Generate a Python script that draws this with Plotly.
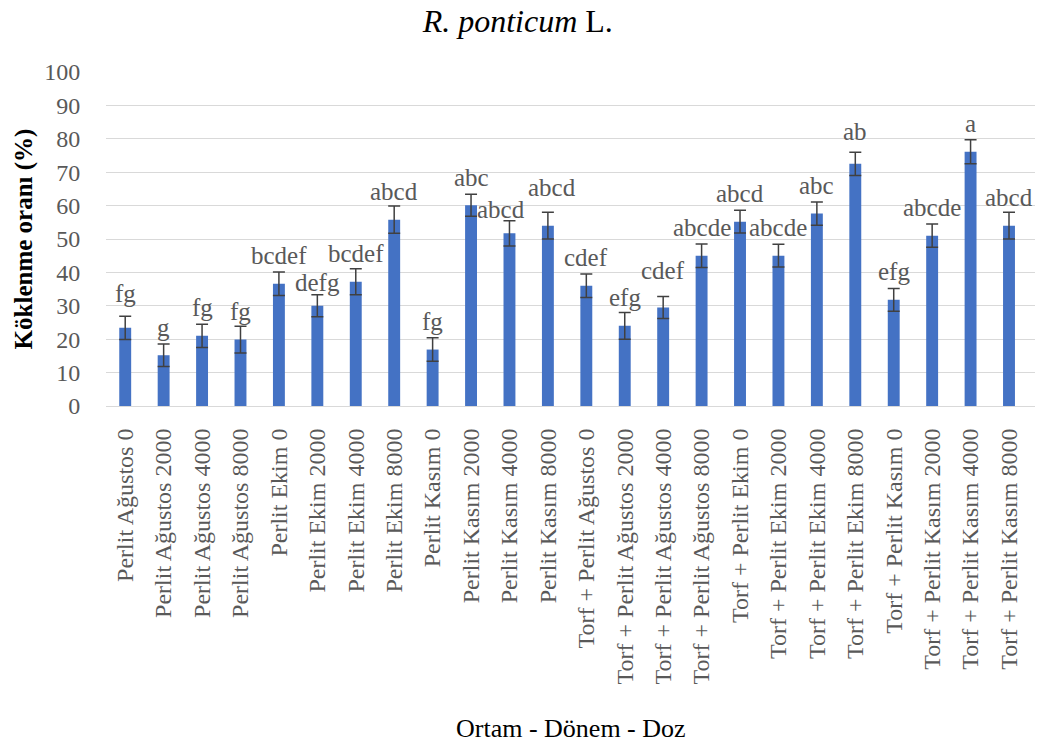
import plotly.graph_objects as go

# Treatment groups: medium - period - dose (ppm IBA)
categories = [
    "Perlit Ağustos 0", "Perlit Ağustos 2000", "Perlit Ağustos 4000", "Perlit Ağustos 8000",
    "Perlit Ekim 0", "Perlit Ekim 2000", "Perlit Ekim 4000", "Perlit Ekim 8000",
    "Perlit Kasım 0", "Perlit Kasım 2000", "Perlit Kasım 4000", "Perlit Kasım 8000",
    "Torf + Perlit Ağustos 0", "Torf + Perlit Ağustos 2000", "Torf + Perlit Ağustos 4000",
    "Torf + Perlit Ağustos 8000", "Torf + Perlit Ekim 0", "Torf + Perlit Ekim 2000",
    "Torf + Perlit Ekim 4000", "Torf + Perlit Ekim 8000", "Torf + Perlit Kasım 0",
    "Torf + Perlit Kasım 2000", "Torf + Perlit Kasım 4000", "Torf + Perlit Kasım 8000",
]

# Rooting rate (%) and standard error
rooting = [23.4, 15.2, 21.0, 19.9, 36.6, 30.0, 37.2, 55.8, 16.9, 60.1, 51.7, 54.0,
           36.0, 24.0, 29.5, 45.0, 55.2, 45.0, 57.6, 72.5, 31.8, 51.0, 76.1, 54.0]
std_err = [3.5, 3.4, 3.5, 4.0, 3.5, 3.3, 3.9, 4.1, 3.5, 3.3, 3.8, 4.0,
           3.5, 4.0, 3.3, 3.5, 3.4, 3.4, 3.5, 3.5, 3.4, 3.5, 3.6, 4.0]

# Duncan grouping letters
letters = ["fg", "g", "fg", "fg", "bcdef", "defg", "bcdef", "abcd", "fg", "abc", "abcd", "abcd",
           "cdef", "efg", "cdef", "abcde", "abcd", "abcde", "abc", "ab", "efg", "abcde", "a", "abcd"]

SERIF = "Liberation Serif"
BAR_BLUE = "#4472C4"
GREY_TXT = "#595959"

fig = go.Figure()
fig.add_trace(go.Bar(
    x=categories,
    y=rooting,
    marker=dict(color=BAR_BLUE, line=dict(width=0)),
    error_y=dict(type="data", array=std_err, visible=True,
                 color="#404040", thickness=1.5, width=6),
    hoverinfo="x+y",
))

# letter labels above each bar; a few are nudged so neighbours don't collide
nudge = {0: (0, 6), 5: (0, -5), 10: (-8, -4), 11: (4, 10), 14: (0, 9), 19: (0, 4)}
for i, (cat, val, lab) in enumerate(zip(categories, rooting, letters)):
    dx, dy = nudge.get(i, (0, 0))
    fig.add_annotation(
        x=cat, y=val, text=lab, showarrow=False,
        yanchor="middle", yshift=28 + dy, xshift=dx,
        font=dict(family=SERIF, size=25, color=GREY_TXT),
    )

# x-axis title placed below the long rotated category labels
fig.add_annotation(
    x=0.5, y=0, xref="paper", yref="paper", text="Ortam - Dönem - Doz",
    showarrow=False, xanchor="center", yanchor="middle", yshift=-322,
    font=dict(family=SERIF, size=26, color="black"),
)

fig.update_layout(
    width=1046, height=744,
    paper_bgcolor="white", plot_bgcolor="white",
    margin=dict(l=106, r=11, t=72, b=338),
    bargap=0.69,
    showlegend=False,
    title=dict(text="<i>R. ponticum</i> L.", x=0.495, xanchor="center",
               y=0.972, yanchor="middle",
               font=dict(family=SERIF, size=32, color="black")),
    font=dict(family=SERIF, color=GREY_TXT),
)

fig.update_xaxes(
    tickangle=-90,
    tickfont=dict(family=SERIF, size=24, color=GREY_TXT),
    showgrid=False, showline=False, zeroline=False,
    ticks="outside", ticklen=12, tickcolor="rgba(0,0,0,0)",
)

fig.update_yaxes(
    range=[0, 100], dtick=10,
    tickfont=dict(family=SERIF, size=24, color=GREY_TXT),
    showgrid=True, gridcolor="#d9d9d9", gridwidth=1.3,
    zeroline=True, zerolinecolor="#d9d9d9", zerolinewidth=1.3,
    showline=False,
    ticks="outside", ticklen=20, tickcolor="rgba(0,0,0,0)",
    title=dict(text="<b>Köklenme oranı (%)</b>", standoff=4,
               font=dict(family=SERIF, size=25, color="black")),
)

fig.write_html("out.html")
